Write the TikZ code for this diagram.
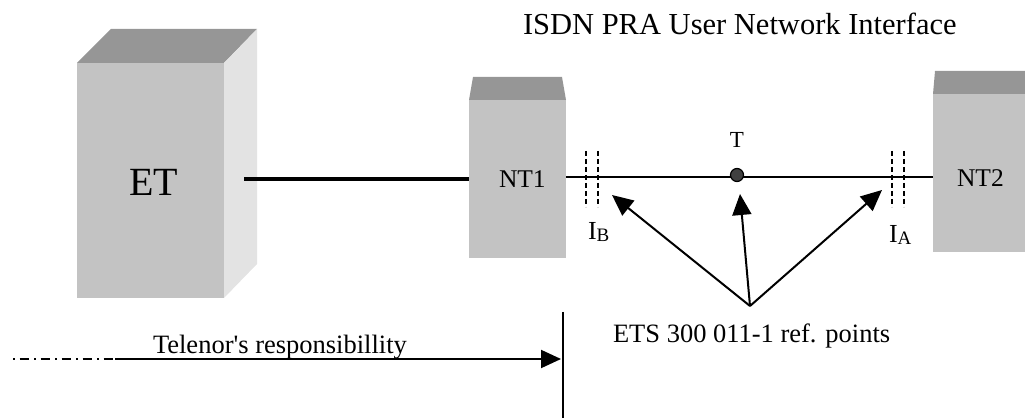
\documentclass[tikz,border=0pt]{standalone}
\usepackage{fontspec}
\setmainfont{Liberation Serif}
\usetikzlibrary{arrows.meta}
\definecolor{boxtop}{HTML}{969696}
\definecolor{boxfront}{HTML}{C3C3C3}
\definecolor{boxside}{HTML}{E3E3E3}
\definecolor{dotfill}{HTML}{404040}
\newcommand{\fs}[1]{\fontsize{#1}{#1}\selectfont}
\begin{document}
\begin{tikzpicture}[x=1pt,y=-1pt,
  lbl/.style={inner sep=0pt,outer sep=0pt,text=black},
  thickline/.style={line width=3.5pt},
  midline/.style={line width=2.5pt},
  refarrow/.style={line width=2pt,-{Triangle[length=21pt,width=19pt]}},
  resparrow/.style={line width=2pt,-{Triangle[length=20pt,width=18pt]}},
  ivline/.style={line width=1.6pt,dash pattern=on 5pt off 3pt},
  dashdotline/.style={line width=2pt,dash pattern=on 2pt off 4.5pt on 9pt off 5.5pt}]
\useasboundingbox (0,0) rectangle (1025,419);
% ET box
\fill[boxtop] (77,63) -- (111,29) -- (257,29) -- (224,63) -- cycle;
\fill[boxside] (224,63) -- (257,29) -- (257,264) -- (224,298) -- cycle;
\fill[boxfront] (77,63) rectangle (224,298);
% NT1 box
\fill[boxtop] (469,100) -- (473,77) -- (562,77) -- (566,100) -- cycle;
\fill[boxfront] (469,100) rectangle (566,258);
% NT2 box
\fill[boxtop] (933,94) -- (935,71) -- (1025,71) -- (1025,94) -- cycle;
\fill[boxfront] (933,94) rectangle (1025,252);
% texts
\node[lbl,anchor=base west] (title) at (523,35) {\fs{30.5}ISDN PRA User Network Interface};
\node[lbl,anchor=base west] (et) at (129,196) {\fs{40}ET};
\node[lbl,anchor=base west] (nt1) at (499,188) {\fs{25.5}NT1};
\node[lbl,anchor=base west] (nt2) at (957,187) {\fs{25.5}NT2};
\node[lbl,anchor=base] (tlbl) at (737,148) {\fs{23}T};
\node[lbl,anchor=base west] (ib) at (588,240) {\fs{26}I\raisebox{-2pt}{\fs{19}B}};
\node[lbl,anchor=base west] (ia) at (889,243) {\fs{26}I\raisebox{-2pt}{\fs{19}A}};
\node[lbl,anchor=base west] (ets) at (613,343) {\fs{26.5}ETS 300 011-1 ref. points};
\node[lbl,anchor=base west] (tel) at (153,353) {\fs{26.5}Telenor\textquotesingle s responsibillity};
% connection coordinates
\coordinate (etR) at (244,179);
\coordinate (nt1L) at (469,179);
\coordinate (nt1R) at (566,177);
\coordinate (nt2L) at (933,177);
\draw[thickline] (etR) -- (nt1L);
\draw[midline] (nt1R) -- (nt2L);
% T point
\node[circle,draw=black,line width=1.2pt,fill=dotfill,minimum size=13pt,inner sep=0pt] (tdot) at (737,175) {};
% interface markers
\coordinate (ib1a) at (586,151); \coordinate (ib1b) at (586,207);
\coordinate (ib2a) at (598,151); \coordinate (ib2b) at (598,207);
\coordinate (ia1a) at (892,151); \coordinate (ia1b) at (892,207);
\coordinate (ia2a) at (904,151); \coordinate (ia2b) at (904,207);
\draw[ivline] (ib1a) -- (ib1b);
\draw[ivline] (ib2a) -- (ib2b);
\draw[ivline] (ia1a) -- (ia1b);
\draw[ivline] (ia2a) -- (ia2b);
% reference arrows
\coordinate (src) at (750,306);
\coordinate (tipB) at (612,195);
\coordinate (tipT) at (740,194);
\coordinate (tipA) at (882,190);
\draw[refarrow] (src) -- (tipB);
\draw[refarrow] (src) -- (tipT);
\draw[refarrow] (src) -- (tipA);
% responsibility
\coordinate (rs0) at (13,359);
\coordinate (rs1) at (115,359);
\coordinate (rs2) at (561,359);
\coordinate (vtop) at (563,312);
\coordinate (vbot) at (563,418);
\draw[dashdotline] (rs0) -- (rs1);
\draw[resparrow] (rs1) -- (rs2);
\draw[line width=2pt] (vtop) -- (vbot);
\end{tikzpicture}
\end{document}
